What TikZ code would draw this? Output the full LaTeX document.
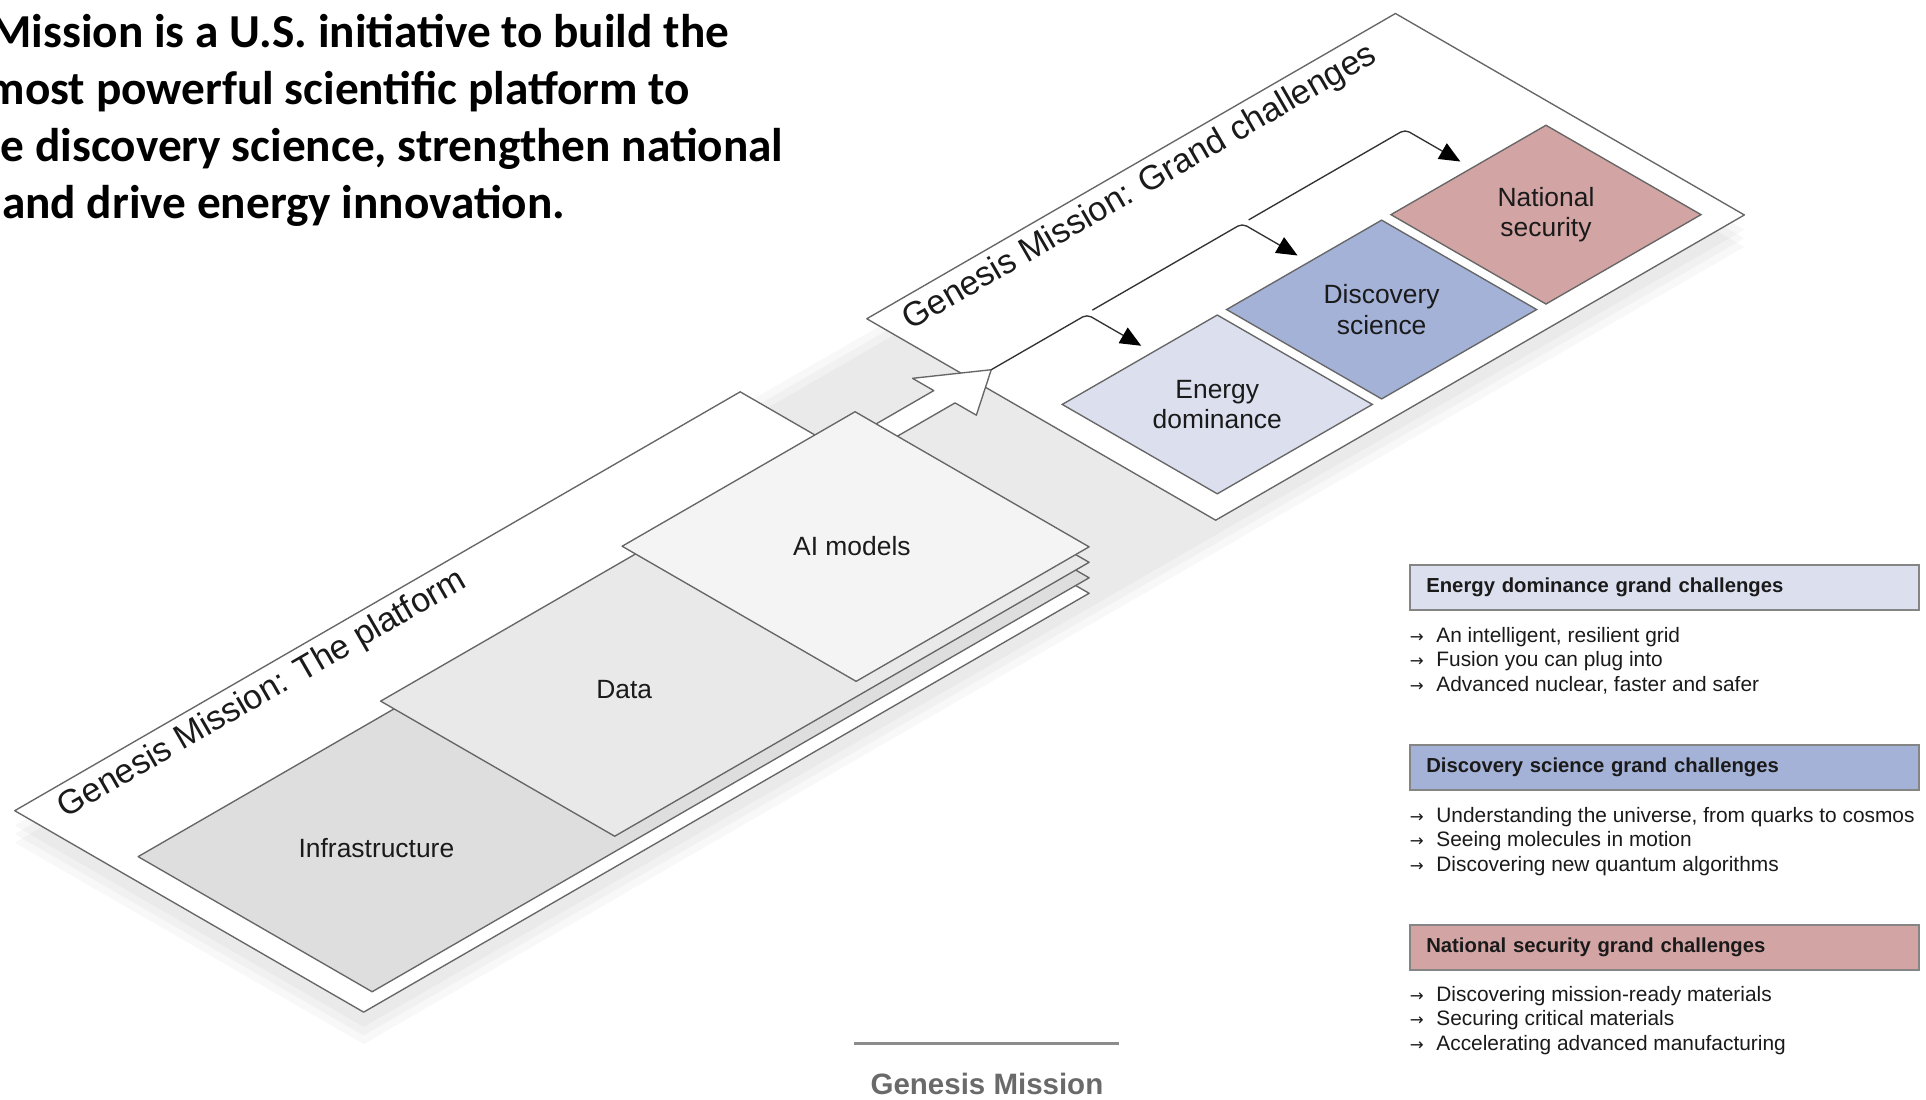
\documentclass[tikz,border=0pt]{standalone}
\usepackage{fontspec}
\setmainfont{Liberation Sans}
\newfontfamily\titlefont{Carlito}
\newfontfamily\symfont{DejaVu Sans}
\usetikzlibrary{arrows.meta,shapes.geometric}
\definecolor{edgec}{HTML}{666666}
\definecolor{infrac}{HTML}{DEDEDE}
\definecolor{datac}{HTML}{E9E9E9}
\definecolor{aic}{HTML}{F4F4F4}
\definecolor{energyc}{HTML}{DCDFEE}
\definecolor{discc}{HTML}{A4B2D8}
\definecolor{natc}{HTML}{D3A4A4}
\definecolor{txtc}{HTML}{1A1A1A}
\definecolor{hdrc}{HTML}{858585}
\definecolor{logoc}{HTML}{6A6A6A}
\definecolor{logoline}{HTML}{8C8C8C}
\begin{document}
\begin{tikzpicture}[x=1pt,y=1pt,
  ln/.style={draw=edgec, line width=1.1pt, line join=round},
  lay/.style={font=\fontsize{21.5}{26}\selectfont, text=txtc, inner sep=0pt},
  dia/.style={diamond, aspect=1.732, draw=edgec, line width=1.1pt, minimum width=252.9pt, minimum height=146pt, inner sep=0pt, align=center, font=\fontsize{21.5}{24.5}\selectfont, text=txtc},
  boxlab/.style={rotate=30, font=\fontsize{27.8}{34}\selectfont, text=txtc, inner sep=0pt},
  flow/.style={draw=black!80, line width=1.1pt, rounded corners=4pt, -{Triangle[length=17pt,width=14.5pt,black]}},
  ttl/.style={anchor=base west, inner sep=0pt, font=\titlefont\bfseries\fontsize{38.5}{47}\selectfont, text=black},
  hbox/.style={anchor=north west, draw=hdrc, line width=1.4pt, minimum width=414.5pt, minimum height=36.5pt, text width=387.5pt, inner xsep=13.5pt, inner ysep=0pt, align=left, font=\bfseries\fontsize{16.5}{20}\selectfont, text=txtc},
  bul/.style={anchor=base west, inner sep=0pt, font=\fontsize{17}{20}\selectfont, text=txtc},
  barr/.style={anchor=base west, inner sep=0pt, font=\symfont\fontsize{13.5}{15}\selectfont, text=txtc},
  logotxt/.style={anchor=base, inner sep=0pt, font=\bfseries\fontsize{24}{28}\selectfont, text=logoc}
]
\useasboundingbox (0,-895.5) rectangle (1568,0);
\fill[white] (0,-895.5) rectangle (1568,0);

% ---------------- isometric part ----------------
\begin{scope}[shift={(12,-660)}, x={(0.866pt,0.5pt)}, y={(0.866pt,-0.5pt)}, z={(0pt,12.6pt)}]
  % soft shadow
  \foreach \s in {12,19,26}{
    \fill[black, fill opacity=0.029, yshift={-\s pt}] (0,0) -- (1298,0) -- (1298,328) -- (0,328) -- cycle;
  }
  % platform base and challenges box
  \draw[ln, fill=white] (0,0) -- (682,0) -- (682,328) -- (0,328) -- cycle;
  \draw[ln, fill=white] (801,0) -- (1298,0) -- (1298,328) -- (801,328) -- cycle;
  % big hollow arrow
  \draw[ln, fill=white] (700,90) -- (774,90) -- (774,70) -- (818,100) -- (774,130) -- (774,110) -- (700,110) -- cycle;
  % stacked layers
  \draw[ln, fill=infrac] (8,108,1) -- (682,108,1) -- (682,328,1) -- (8,328,1) -- cycle;
  \draw[ln, fill=datac] (236,108,2) -- (682,108,2) -- (682,328,2) -- (236,328,2) -- cycle;
  \draw[ln, fill=aic] (463,108,3) -- (682,108,3) -- (682,328,3) -- (463,328,3) -- cycle;
  \node[lay] (infra) at (127,213,1) {Infrastructure};
  \node[lay] (data) at (360,213,2) {Data};
  \node[lay] (ai) at (571,216,3) {AI models};
  % box labels
  \node[boxlab] (platlab) at (211,22) {Genesis Mission: The platform};
  \node[boxlab] (gclab) at (1036,22) {Genesis Mission: Grand challenges};
  % challenge diamonds
  \node[dia, fill=energyc] (energy) at (896,234.5) {Energy\\dominance};
  \node[dia, fill=discc] (disc) at (1050.5,234.5) {Discovery\\science};
  \node[dia, fill=natc] (nat) at (1205,234.5) {National\\security};
  % elbow connectors
  \coordinate (tip) at (818,100);
  \coordinate (c1) at (908,100);  \coordinate (e1) at (908,151);
  \coordinate (s2) at (914,99);   \coordinate (c2) at (1055,99);  \coordinate (e2) at (1055,151);
  \coordinate (s3) at (1061,99);  \coordinate (c3) at (1208,99);  \coordinate (e3) at (1208,151);
  \draw[flow] (tip) -- (c1) -- (e1);
  \draw[flow] (s2) -- (c2) -- (e2);
  \draw[flow] (s3) -- (c3) -- (e3);
\end{scope}

% ---------------- title ----------------
\node[ttl] (t1) at (-8,-38.5) {Mission is a U.S. initiative to build the};
\node[ttl] (t2) at (-11,-85) {most powerful scientific platform to};
\node[ttl] (t3) at (0.5,-131.5) {e discovery science, strengthen national};
\node[ttl] (t4) at (1.5,-178) {and drive energy innovation.};

% ---------------- right panel ----------------
\node[hbox, fill=energyc] (h1) at (1147,-459.5) {Energy dominance grand challenges};
\node[barr] (a11) at (1147.5,-523) {→}; \node[bul] (b11) at (1169.2,-523) {An intelligent, resilient grid};
\node[barr] (a12) at (1147.5,-543) {→}; \node[bul] (b12) at (1169.2,-543) {Fusion you can plug into};
\node[barr] (a13) at (1147.5,-563) {→}; \node[bul] (b13) at (1169.2,-563) {Advanced nuclear, faster and safer};

\node[hbox, fill=discc] (h2) at (1147,-606) {Discovery science grand challenges};
\node[barr] (a21) at (1147.5,-669.5) {→}; \node[bul] (b21) at (1169.2,-669.5) {Understanding the universe, from quarks to cosmos};
\node[barr] (a22) at (1147.5,-689.5) {→}; \node[bul] (b22) at (1169.2,-689.5) {Seeing molecules in motion};
\node[barr] (a23) at (1147.5,-709.5) {→}; \node[bul] (b23) at (1169.2,-709.5) {Discovering new quantum algorithms};

\node[hbox, fill=natc] (h3) at (1147,-752.5) {National security grand challenges};
\node[barr] (a31) at (1147.5,-815) {→}; \node[bul] (b31) at (1169.2,-815) {Discovering mission-ready materials};
\node[barr] (a32) at (1147.5,-835) {→}; \node[bul] (b32) at (1169.2,-835) {Securing critical materials};
\node[barr] (a33) at (1147.5,-855) {→}; \node[bul] (b33) at (1169.2,-855) {Accelerating advanced manufacturing};

% ---------------- logo ----------------
\coordinate (ll) at (695.4,-849.6);
\coordinate (lr) at (910.7,-849.6);
\draw[logoline, line width=2.5pt] (ll) -- (lr);
\node[logotxt] (logo) at (803.5,-891) {Genesis Mission};
\end{tikzpicture}
\end{document}
